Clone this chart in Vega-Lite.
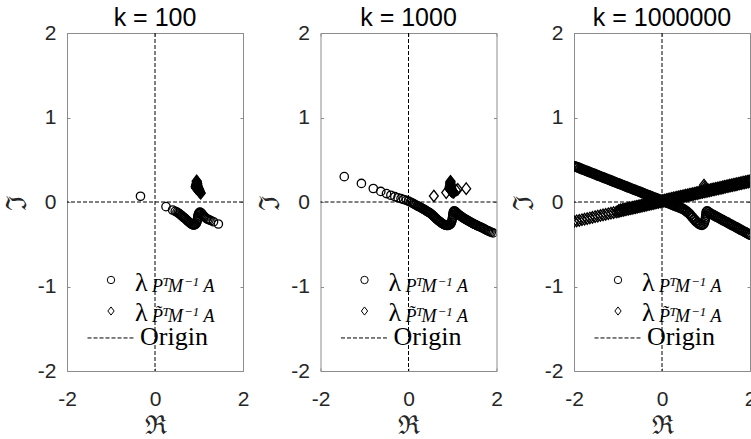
{
"$schema":"https://vega.github.io/schema/vega-lite/v6.json",
"padding":{"left":2,"top":5,"right":5,"bottom":5},
"spacing":5.5,
"datasets":{
"pts":[
{"k":100,"s":"c","x":-0.33,"y":0.068},{"k":100,"s":"c","x":0.25,"y":-0.055},{"k":100,"s":"c","x":0.40,"y":-0.095},{"k":100,"s":"c","x":0.46,"y":-0.11},{"k":100,"s":"c","x":0.50,"y":-0.12},{"k":100,"s":"c","x":0.53,"y":-0.13},{"k":100,"s":"c","x":0.555,"y":-0.14},{"k":100,"s":"c","x":0.58,"y":-0.15},{"k":100,"s":"c","x":0.60,"y":-0.16},{"k":100,"s":"c","x":0.62,"y":-0.168},{"k":100,"s":"c","x":0.64,"y":-0.178},{"k":100,"s":"c","x":0.66,"y":-0.186},{"k":100,"s":"c","x":0.68,"y":-0.193},{"k":100,"s":"c","x":0.70,"y":-0.203},{"k":100,"s":"c","x":0.72,"y":-0.213},{"k":100,"s":"c","x":0.74,"y":-0.223},{"k":100,"s":"c","x":0.76,"y":-0.233},{"k":100,"s":"c","x":0.78,"y":-0.242},{"k":100,"s":"c","x":0.80,"y":-0.25},{"k":100,"s":"c","x":0.82,"y":-0.258},{"k":100,"s":"c","x":0.84,"y":-0.265},{"k":100,"s":"c","x":0.86,"y":-0.27},{"k":100,"s":"c","x":0.88,"y":-0.272},{"k":100,"s":"c","x":0.90,"y":-0.27},{"k":100,"s":"c","x":0.92,"y":-0.264},{"k":100,"s":"c","x":0.94,"y":-0.253},{"k":100,"s":"c","x":0.955,"y":-0.235},{"k":100,"s":"c","x":0.962,"y":-0.215},{"k":100,"s":"c","x":0.968,"y":-0.195},{"k":100,"s":"c","x":0.972,"y":-0.175},{"k":100,"s":"c","x":0.98,"y":-0.155},{"k":100,"s":"c","x":0.99,"y":-0.138},{"k":100,"s":"c","x":1.005,"y":-0.125},{"k":100,"s":"c","x":1.02,"y":-0.12},{"k":100,"s":"c","x":1.04,"y":-0.125},{"k":100,"s":"c","x":1.06,"y":-0.135},{"k":100,"s":"c","x":1.08,"y":-0.15},{"k":100,"s":"c","x":1.10,"y":-0.162},{"k":100,"s":"c","x":1.12,"y":-0.173},{"k":100,"s":"c","x":1.14,"y":-0.182},{"k":100,"s":"c","x":1.17,"y":-0.195},{"k":100,"s":"c","x":1.20,"y":-0.204},{"k":100,"s":"c","x":1.23,"y":-0.211},{"k":100,"s":"c","x":1.27,"y":-0.219},{"k":100,"s":"c","x":1.33,"y":-0.234},{"k":100,"s":"c","x":1.44,"y":-0.26},
{"k":100,"s":"d","x":0.947,"y":0.25},{"k":100,"s":"d","x":0.95,"y":0.24},{"k":100,"s":"d","x":0.952,"y":0.23},{"k":100,"s":"d","x":0.948,"y":0.22},{"k":100,"s":"d","x":0.94,"y":0.21},{"k":100,"s":"d","x":0.935,"y":0.2},{"k":100,"s":"d","x":0.93,"y":0.19},{"k":100,"s":"d","x":0.925,"y":0.18},{"k":100,"s":"d","x":0.93,"y":0.17},{"k":100,"s":"d","x":0.94,"y":0.165},{"k":100,"s":"d","x":0.95,"y":0.16},{"k":100,"s":"d","x":0.96,"y":0.155},{"k":100,"s":"d","x":0.97,"y":0.15},{"k":100,"s":"d","x":0.98,"y":0.145},{"k":100,"s":"d","x":0.99,"y":0.14},{"k":100,"s":"d","x":1.0,"y":0.133},{"k":100,"s":"d","x":1.01,"y":0.126},{"k":100,"s":"d","x":1.02,"y":0.12},{"k":100,"s":"d","x":1.03,"y":0.113},{"k":100,"s":"d","x":1.04,"y":0.105},{"k":100,"s":"d","x":0.96,"y":0.22},{"k":100,"s":"d","x":0.965,"y":0.2},{"k":100,"s":"d","x":0.97,"y":0.185},{"k":100,"s":"d","x":0.98,"y":0.175},{"k":100,"s":"d","x":0.99,"y":0.16},{"k":100,"s":"d","x":1.0,"y":0.15},{"k":100,"s":"d","x":1.01,"y":0.14},{"k":100,"s":"d","x":0.955,"y":0.185},{"k":100,"s":"d","x":0.945,"y":0.19},{"k":100,"s":"d","x":0.96,"y":0.175},
{"k":1000,"s":"c","x":-1.46,"y":0.30},{"k":1000,"s":"c","x":-1.07,"y":0.22},{"k":1000,"s":"c","x":-0.80,"y":0.16},{"k":1000,"s":"c","x":-0.63,"y":0.125},{"k":1000,"s":"c","x":-0.50,"y":0.10},{"k":1000,"s":"c","x":-0.40,"y":0.08},{"k":1000,"s":"c","x":-0.31,"y":0.063},{"k":1000,"s":"c","x":-0.24,"y":0.05},{"k":1000,"s":"c","x":-0.17,"y":0.04},{"k":1000,"s":"c","x":-0.11,"y":0.03},{"k":1000,"s":"c","x":-0.05,"y":0.02},{"k":1000,"s":"c","x":0.0,"y":0.01},{"k":1000,"s":"c","x":0.04,"y":0.0},{"k":1000,"s":"c","x":0.08,"y":-0.01},{"k":1000,"s":"c","x":0.11,"y":-0.02},{"k":1000,"s":"c","x":0.14,"y":-0.028},{"k":1000,"s":"c","x":0.17,"y":-0.036},{"k":1000,"s":"c","x":0.20,"y":-0.044},{"k":1000,"s":"c","x":0.22,"y":-0.05},{"k":1000,"s":"c","x":0.24,"y":-0.055},{"k":1000,"s":"c","x":0.26,"y":-0.06},{"k":1000,"s":"c","x":0.28,"y":-0.066},{"k":1000,"s":"c","x":0.30,"y":-0.072},{"k":1000,"s":"c","x":0.32,"y":-0.078},{"k":1000,"s":"c","x":0.34,"y":-0.085},{"k":1000,"s":"c","x":0.36,"y":-0.091},{"k":1000,"s":"c","x":0.38,"y":-0.097},{"k":1000,"s":"c","x":0.40,"y":-0.103},{"k":1000,"s":"c","x":0.42,"y":-0.109},{"k":1000,"s":"c","x":0.44,"y":-0.115},{"k":1000,"s":"c","x":0.46,"y":-0.121},{"k":1000,"s":"c","x":0.48,"y":-0.128},{"k":1000,"s":"c","x":0.50,"y":-0.135},{"k":1000,"s":"c","x":0.52,"y":-0.143},{"k":1000,"s":"c","x":0.54,"y":-0.152},{"k":1000,"s":"c","x":0.56,"y":-0.162},{"k":1000,"s":"c","x":0.58,"y":-0.172},{"k":1000,"s":"c","x":0.60,"y":-0.182},{"k":1000,"s":"c","x":0.62,"y":-0.192},{"k":1000,"s":"c","x":0.64,"y":-0.202},{"k":1000,"s":"c","x":0.66,"y":-0.211},{"k":1000,"s":"c","x":0.68,"y":-0.22},{"k":1000,"s":"c","x":0.70,"y":-0.228},{"k":1000,"s":"c","x":0.72,"y":-0.236},{"k":1000,"s":"c","x":0.74,"y":-0.244},{"k":1000,"s":"c","x":0.76,"y":-0.252},{"k":1000,"s":"c","x":0.78,"y":-0.259},{"k":1000,"s":"c","x":0.80,"y":-0.265},{"k":1000,"s":"c","x":0.82,"y":-0.27},{"k":1000,"s":"c","x":0.84,"y":-0.274},{"k":1000,"s":"c","x":0.86,"y":-0.277},{"k":1000,"s":"c","x":0.88,"y":-0.278},{"k":1000,"s":"c","x":0.90,"y":-0.277},{"k":1000,"s":"c","x":0.92,"y":-0.274},{"k":1000,"s":"c","x":0.94,"y":-0.268},{"k":1000,"s":"c","x":0.96,"y":-0.258},{"k":1000,"s":"c","x":0.975,"y":-0.243},{"k":1000,"s":"c","x":0.985,"y":-0.225},{"k":1000,"s":"c","x":0.995,"y":-0.205},{"k":1000,"s":"c","x":1.0,"y":-0.185},{"k":1000,"s":"c","x":1.005,"y":-0.165},{"k":1000,"s":"c","x":1.01,"y":-0.145},{"k":1000,"s":"c","x":1.015,"y":-0.125},{"k":1000,"s":"c","x":1.025,"y":-0.11},{"k":1000,"s":"c","x":1.04,"y":-0.105},{"k":1000,"s":"c","x":1.06,"y":-0.11},{"k":1000,"s":"c","x":1.08,"y":-0.12},{"k":1000,"s":"c","x":1.10,"y":-0.13},{"k":1000,"s":"c","x":1.12,"y":-0.14},{"k":1000,"s":"c","x":1.14,"y":-0.149},{"k":1000,"s":"c","x":1.16,"y":-0.157},{"k":1000,"s":"c","x":1.18,"y":-0.165},{"k":1000,"s":"c","x":1.20,"y":-0.172},{"k":1000,"s":"c","x":1.22,"y":-0.179},{"k":1000,"s":"c","x":1.24,"y":-0.186},{"k":1000,"s":"c","x":1.26,"y":-0.193},{"k":1000,"s":"c","x":1.28,"y":-0.2},{"k":1000,"s":"c","x":1.30,"y":-0.206},{"k":1000,"s":"c","x":1.32,"y":-0.212},{"k":1000,"s":"c","x":1.34,"y":-0.218},{"k":1000,"s":"c","x":1.36,"y":-0.224},{"k":1000,"s":"c","x":1.38,"y":-0.23},{"k":1000,"s":"c","x":1.40,"y":-0.236},{"k":1000,"s":"c","x":1.42,"y":-0.242},{"k":1000,"s":"c","x":1.44,"y":-0.248},{"k":1000,"s":"c","x":1.46,"y":-0.253},{"k":1000,"s":"c","x":1.48,"y":-0.258},{"k":1000,"s":"c","x":1.50,"y":-0.263},{"k":1000,"s":"c","x":1.52,"y":-0.268},{"k":1000,"s":"c","x":1.54,"y":-0.273},{"k":1000,"s":"c","x":1.56,"y":-0.278},{"k":1000,"s":"c","x":1.58,"y":-0.284},{"k":1000,"s":"c","x":1.61,"y":-0.29},{"k":1000,"s":"c","x":1.64,"y":-0.298},{"k":1000,"s":"c","x":1.67,"y":-0.305},{"k":1000,"s":"c","x":1.70,"y":-0.313},{"k":1000,"s":"c","x":1.73,"y":-0.321},{"k":1000,"s":"c","x":1.76,"y":-0.329},{"k":1000,"s":"c","x":1.79,"y":-0.337},{"k":1000,"s":"c","x":1.82,"y":-0.344},{"k":1000,"s":"c","x":1.85,"y":-0.351},{"k":1000,"s":"c","x":1.88,"y":-0.358},{"k":1000,"s":"c","x":1.92,"y":-0.366},
{"k":1000,"s":"d","x":0.576,"y":0.071},{"k":1000,"s":"d","x":0.857,"y":0.111},{"k":1000,"s":"d","x":1.12,"y":0.15},{"k":1000,"s":"d","x":1.311,"y":0.158},{"k":1000,"s":"d","x":0.955,"y":0.245},{"k":1000,"s":"d","x":0.952,"y":0.235},{"k":1000,"s":"d","x":0.95,"y":0.225},{"k":1000,"s":"d","x":0.95,"y":0.215},{"k":1000,"s":"d","x":0.945,"y":0.2},{"k":1000,"s":"d","x":0.94,"y":0.19},{"k":1000,"s":"d","x":0.94,"y":0.18},{"k":1000,"s":"d","x":0.96,"y":0.19},{"k":1000,"s":"d","x":0.935,"y":0.17},{"k":1000,"s":"d","x":0.93,"y":0.16},{"k":1000,"s":"d","x":0.975,"y":0.16},{"k":1000,"s":"d","x":0.965,"y":0.175},{"k":1000,"s":"d","x":0.95,"y":0.145},{"k":1000,"s":"d","x":0.96,"y":0.14},{"k":1000,"s":"d","x":0.97,"y":0.135},{"k":1000,"s":"d","x":0.98,"y":0.13},{"k":1000,"s":"d","x":0.99,"y":0.125},{"k":1000,"s":"d","x":1.0,"y":0.122},{"k":1000,"s":"d","x":1.01,"y":0.12},{"k":1000,"s":"d","x":1.02,"y":0.118},{"k":1000,"s":"d","x":1.03,"y":0.115},{"k":1000,"s":"d","x":1.08,"y":0.14},
{"k":1000000,"s":"c","x":-2.0,"y":0.42},{"k":1000000,"s":"c","x":-1.96,"y":0.412},{"k":1000000,"s":"c","x":-1.92,"y":0.404},{"k":1000000,"s":"c","x":-1.88,"y":0.395},{"k":1000000,"s":"c","x":-1.84,"y":0.387},{"k":1000000,"s":"c","x":-1.80,"y":0.379},{"k":1000000,"s":"c","x":-1.76,"y":0.371},{"k":1000000,"s":"c","x":-1.72,"y":0.363},{"k":1000000,"s":"c","x":-1.68,"y":0.354},{"k":1000000,"s":"c","x":-1.64,"y":0.346},{"k":1000000,"s":"c","x":-1.60,"y":0.338},{"k":1000000,"s":"c","x":-1.56,"y":0.33},{"k":1000000,"s":"c","x":-1.52,"y":0.322},{"k":1000000,"s":"c","x":-1.48,"y":0.313},{"k":1000000,"s":"c","x":-1.44,"y":0.305},{"k":1000000,"s":"c","x":-1.40,"y":0.297},{"k":1000000,"s":"c","x":-1.36,"y":0.289},{"k":1000000,"s":"c","x":-1.32,"y":0.281},{"k":1000000,"s":"c","x":-1.28,"y":0.272},{"k":1000000,"s":"c","x":-1.24,"y":0.264},{"k":1000000,"s":"c","x":-1.20,"y":0.256},{"k":1000000,"s":"c","x":-1.16,"y":0.248},{"k":1000000,"s":"c","x":-1.12,"y":0.24},{"k":1000000,"s":"c","x":-1.08,"y":0.231},{"k":1000000,"s":"c","x":-1.04,"y":0.223},{"k":1000000,"s":"c","x":-1.00,"y":0.215},{"k":1000000,"s":"c","x":-0.96,"y":0.207},{"k":1000000,"s":"c","x":-0.92,"y":0.199},{"k":1000000,"s":"c","x":-0.88,"y":0.19},{"k":1000000,"s":"c","x":-0.84,"y":0.182},{"k":1000000,"s":"c","x":-0.80,"y":0.174},{"k":1000000,"s":"c","x":-0.76,"y":0.166},{"k":1000000,"s":"c","x":-0.72,"y":0.158},{"k":1000000,"s":"c","x":-0.68,"y":0.149},{"k":1000000,"s":"c","x":-0.64,"y":0.141},{"k":1000000,"s":"c","x":-0.60,"y":0.133},{"k":1000000,"s":"c","x":-0.56,"y":0.125},{"k":1000000,"s":"c","x":-0.52,"y":0.117},{"k":1000000,"s":"c","x":-0.48,"y":0.108},{"k":1000000,"s":"c","x":-0.44,"y":0.1},{"k":1000000,"s":"c","x":-0.40,"y":0.092},{"k":1000000,"s":"c","x":-0.36,"y":0.084},{"k":1000000,"s":"c","x":-0.32,"y":0.076},{"k":1000000,"s":"c","x":-0.28,"y":0.067},{"k":1000000,"s":"c","x":-0.24,"y":0.059},{"k":1000000,"s":"c","x":-0.20,"y":0.051},{"k":1000000,"s":"c","x":-0.16,"y":0.043},{"k":1000000,"s":"c","x":-0.12,"y":0.035},{"k":1000000,"s":"c","x":-0.08,"y":0.026},{"k":1000000,"s":"c","x":-0.04,"y":0.018},{"k":1000000,"s":"c","x":0.0,"y":0.01},{"k":1000000,"s":"c","x":0.04,"y":0.002},{"k":1000000,"s":"c","x":0.08,"y":-0.006},{"k":1000000,"s":"c","x":0.12,"y":-0.015},{"k":1000000,"s":"c","x":0.16,"y":-0.023},{"k":1000000,"s":"c","x":0.20,"y":-0.031},{"k":1000000,"s":"c","x":0.24,"y":-0.039},{"k":1000000,"s":"c","x":0.28,"y":-0.047},{"k":1000000,"s":"c","x":0.32,"y":-0.056},{"k":1000000,"s":"c","x":0.36,"y":-0.064},{"k":1000000,"s":"c","x":0.40,"y":-0.072},{"k":1000000,"s":"c","x":0.44,"y":-0.08},{"k":1000000,"s":"c","x":0.48,"y":-0.09},{"k":1000000,"s":"c","x":0.52,"y":-0.103},{"k":1000000,"s":"c","x":0.56,"y":-0.118},{"k":1000000,"s":"c","x":0.60,"y":-0.135},{"k":1000000,"s":"c","x":0.64,"y":-0.155},{"k":1000000,"s":"c","x":0.68,"y":-0.18},{"k":1000000,"s":"c","x":0.72,"y":-0.205},{"k":1000000,"s":"c","x":0.76,"y":-0.228},{"k":1000000,"s":"c","x":0.80,"y":-0.248},{"k":1000000,"s":"c","x":0.84,"y":-0.264},{"k":1000000,"s":"c","x":0.88,"y":-0.274},{"k":1000000,"s":"c","x":0.91,"y":-0.276},{"k":1000000,"s":"c","x":0.94,"y":-0.268},{"k":1000000,"s":"c","x":0.96,"y":-0.25},{"k":1000000,"s":"c","x":0.975,"y":-0.228},{"k":1000000,"s":"c","x":0.985,"y":-0.205},{"k":1000000,"s":"c","x":0.99,"y":-0.18},{"k":1000000,"s":"c","x":0.995,"y":-0.155},{"k":1000000,"s":"c","x":1.0,"y":-0.13},{"k":1000000,"s":"c","x":1.01,"y":-0.11},{"k":1000000,"s":"c","x":1.03,"y":-0.105},{"k":1000000,"s":"c","x":1.06,"y":-0.115},{"k":1000000,"s":"c","x":1.10,"y":-0.13},{"k":1000000,"s":"c","x":1.14,"y":-0.142},{"k":1000000,"s":"c","x":1.18,"y":-0.153},{"k":1000000,"s":"c","x":1.22,"y":-0.164},{"k":1000000,"s":"c","x":1.26,"y":-0.175},{"k":1000000,"s":"c","x":1.30,"y":-0.186},{"k":1000000,"s":"c","x":1.34,"y":-0.198},{"k":1000000,"s":"c","x":1.38,"y":-0.209},{"k":1000000,"s":"c","x":1.42,"y":-0.22},{"k":1000000,"s":"c","x":1.46,"y":-0.231},{"k":1000000,"s":"c","x":1.50,"y":-0.242},{"k":1000000,"s":"c","x":1.54,"y":-0.254},{"k":1000000,"s":"c","x":1.58,"y":-0.265},{"k":1000000,"s":"c","x":1.62,"y":-0.276},{"k":1000000,"s":"c","x":1.66,"y":-0.287},{"k":1000000,"s":"c","x":1.70,"y":-0.298},{"k":1000000,"s":"c","x":1.74,"y":-0.31},{"k":1000000,"s":"c","x":1.78,"y":-0.321},{"k":1000000,"s":"c","x":1.82,"y":-0.332},{"k":1000000,"s":"c","x":1.86,"y":-0.343},{"k":1000000,"s":"c","x":1.90,"y":-0.354},{"k":1000000,"s":"c","x":1.94,"y":-0.366},{"k":1000000,"s":"c","x":1.98,"y":-0.377},{"k":1000000,"s":"c","x":2.02,"y":-0.388},
{"k":1000000,"s":"c","x":-1.98,"y":0.428},{"k":1000000,"s":"c","x":-1.94,"y":0.42},{"k":1000000,"s":"c","x":-1.90,"y":0.412},{"k":1000000,"s":"c","x":-1.86,"y":0.403},{"k":1000000,"s":"c","x":-1.82,"y":0.395},{"k":1000000,"s":"c","x":-1.78,"y":0.387},{"k":1000000,"s":"c","x":-1.74,"y":0.379},{"k":1000000,"s":"c","x":-1.70,"y":0.371},{"k":1000000,"s":"c","x":-1.66,"y":0.362},{"k":1000000,"s":"c","x":-1.62,"y":0.354},{"k":1000000,"s":"c","x":-1.58,"y":0.346},{"k":1000000,"s":"c","x":-1.54,"y":0.338},{"k":1000000,"s":"c","x":-1.50,"y":0.33},{"k":1000000,"s":"c","x":-1.46,"y":0.321},{"k":1000000,"s":"c","x":-1.42,"y":0.313},{"k":1000000,"s":"c","x":-1.38,"y":0.305},{"k":1000000,"s":"c","x":-1.34,"y":0.297},{"k":1000000,"s":"c","x":-1.30,"y":0.289},{"k":1000000,"s":"c","x":-1.26,"y":0.28},{"k":1000000,"s":"c","x":-1.22,"y":0.272},{"k":1000000,"s":"c","x":-1.18,"y":0.264},{"k":1000000,"s":"c","x":-1.14,"y":0.256},{"k":1000000,"s":"c","x":-1.10,"y":0.248},{"k":1000000,"s":"c","x":-1.06,"y":0.239},{"k":1000000,"s":"c","x":-1.02,"y":0.231},{"k":1000000,"s":"c","x":-0.98,"y":0.223},{"k":1000000,"s":"c","x":-0.94,"y":0.215},{"k":1000000,"s":"c","x":-0.90,"y":0.207},{"k":1000000,"s":"c","x":-0.86,"y":0.198},{"k":1000000,"s":"c","x":-0.82,"y":0.19},{"k":1000000,"s":"c","x":-0.78,"y":0.182},{"k":1000000,"s":"c","x":-0.74,"y":0.174},{"k":1000000,"s":"c","x":-0.70,"y":0.166},{"k":1000000,"s":"c","x":-0.66,"y":0.157},{"k":1000000,"s":"c","x":-0.62,"y":0.149},{"k":1000000,"s":"c","x":-0.58,"y":0.141},{"k":1000000,"s":"c","x":-0.54,"y":0.133},{"k":1000000,"s":"c","x":-0.50,"y":0.125},{"k":1000000,"s":"c","x":-0.46,"y":0.116},{"k":1000000,"s":"c","x":-0.42,"y":0.108},{"k":1000000,"s":"c","x":-0.38,"y":0.1},{"k":1000000,"s":"c","x":-0.34,"y":0.092},{"k":1000000,"s":"c","x":-0.30,"y":0.084},{"k":1000000,"s":"c","x":-0.26,"y":0.075},{"k":1000000,"s":"c","x":-0.22,"y":0.067},{"k":1000000,"s":"c","x":-0.18,"y":0.059},{"k":1000000,"s":"c","x":-0.14,"y":0.051},{"k":1000000,"s":"c","x":-0.10,"y":0.043},{"k":1000000,"s":"c","x":-0.06,"y":0.034},{"k":1000000,"s":"c","x":-0.02,"y":0.026},{"k":1000000,"s":"c","x":0.02,"y":0.018},{"k":1000000,"s":"c","x":0.06,"y":0.01},{"k":1000000,"s":"c","x":0.10,"y":0.001},{"k":1000000,"s":"c","x":0.14,"y":-0.007},{"k":1000000,"s":"c","x":0.18,"y":-0.015},{"k":1000000,"s":"c","x":0.22,"y":-0.023},{"k":1000000,"s":"c","x":0.26,"y":-0.031},{"k":1000000,"s":"c","x":0.30,"y":-0.04},{"k":1000000,"s":"c","x":0.34,"y":-0.048},{"k":1000000,"s":"c","x":0.38,"y":-0.056},{"k":1000000,"s":"c","x":0.42,"y":-0.064},{"k":1000000,"s":"c","x":0.46,"y":-0.073},{"k":1000000,"s":"c","x":0.50,"y":-0.084},{"k":1000000,"s":"c","x":0.54,"y":-0.098},{"k":1000000,"s":"c","x":0.58,"y":-0.114},{"k":1000000,"s":"c","x":0.62,"y":-0.133},{"k":1000000,"s":"c","x":0.66,"y":-0.155},{"k":1000000,"s":"c","x":0.70,"y":-0.18},{"k":1000000,"s":"c","x":0.74,"y":-0.204},{"k":1000000,"s":"c","x":0.78,"y":-0.226},{"k":1000000,"s":"c","x":0.82,"y":-0.244},{"k":1000000,"s":"c","x":0.86,"y":-0.258},{"k":1000000,"s":"c","x":1.08,"y":-0.133},{"k":1000000,"s":"c","x":1.12,"y":-0.146},{"k":1000000,"s":"c","x":1.16,"y":-0.158},{"k":1000000,"s":"c","x":1.20,"y":-0.169},{"k":1000000,"s":"c","x":1.24,"y":-0.18},{"k":1000000,"s":"c","x":1.28,"y":-0.191},{"k":1000000,"s":"c","x":1.32,"y":-0.202},{"k":1000000,"s":"c","x":1.36,"y":-0.214},{"k":1000000,"s":"c","x":1.40,"y":-0.225},{"k":1000000,"s":"c","x":1.44,"y":-0.236},{"k":1000000,"s":"c","x":1.48,"y":-0.247},{"k":1000000,"s":"c","x":1.52,"y":-0.258},{"k":1000000,"s":"c","x":1.56,"y":-0.27},{"k":1000000,"s":"c","x":1.60,"y":-0.281},{"k":1000000,"s":"c","x":1.64,"y":-0.292},{"k":1000000,"s":"c","x":1.68,"y":-0.303},{"k":1000000,"s":"c","x":1.72,"y":-0.314},{"k":1000000,"s":"c","x":1.76,"y":-0.326},{"k":1000000,"s":"c","x":1.80,"y":-0.337},{"k":1000000,"s":"c","x":1.84,"y":-0.348},{"k":1000000,"s":"c","x":1.88,"y":-0.359},{"k":1000000,"s":"c","x":1.92,"y":-0.37},{"k":1000000,"s":"c","x":1.96,"y":-0.382},{"k":1000000,"s":"c","x":2.00,"y":-0.393},
{"k":1000000,"s":"d","x":-2.0,"y":-0.231},{"k":1000000,"s":"d","x":-1.94,"y":-0.224},{"k":1000000,"s":"d","x":-1.88,"y":-0.217},{"k":1000000,"s":"d","x":-1.82,"y":-0.21},{"k":1000000,"s":"d","x":-1.76,"y":-0.203},{"k":1000000,"s":"d","x":-1.70,"y":-0.196},{"k":1000000,"s":"d","x":-1.64,"y":-0.189},{"k":1000000,"s":"d","x":-1.58,"y":-0.181},{"k":1000000,"s":"d","x":-1.52,"y":-0.174},{"k":1000000,"s":"d","x":-1.46,"y":-0.167},{"k":1000000,"s":"d","x":-1.40,"y":-0.16},{"k":1000000,"s":"d","x":-1.34,"y":-0.153},{"k":1000000,"s":"d","x":-1.28,"y":-0.146},{"k":1000000,"s":"d","x":-1.22,"y":-0.139},{"k":1000000,"s":"d","x":-1.16,"y":-0.132},{"k":1000000,"s":"d","x":-1.10,"y":-0.125},{"k":1000000,"s":"d","x":-1.04,"y":-0.118},{"k":1000000,"s":"d","x":-1.0,"y":-0.113},{"k":1000000,"s":"d","x":-0.96,"y":-0.108},{"k":1000000,"s":"d","x":-0.92,"y":-0.104},{"k":1000000,"s":"d","x":-0.88,"y":-0.099},{"k":1000000,"s":"d","x":-0.84,"y":-0.094},{"k":1000000,"s":"d","x":-0.80,"y":-0.089},{"k":1000000,"s":"d","x":-0.76,"y":-0.085},{"k":1000000,"s":"d","x":-0.72,"y":-0.08},{"k":1000000,"s":"d","x":-0.68,"y":-0.075},{"k":1000000,"s":"d","x":-0.64,"y":-0.071},{"k":1000000,"s":"d","x":-0.60,"y":-0.066},{"k":1000000,"s":"d","x":-0.56,"y":-0.061},{"k":1000000,"s":"d","x":-0.52,"y":-0.056},{"k":1000000,"s":"d","x":-0.48,"y":-0.052},{"k":1000000,"s":"d","x":-0.44,"y":-0.047},{"k":1000000,"s":"d","x":-0.40,"y":-0.042},{"k":1000000,"s":"d","x":-0.36,"y":-0.037},{"k":1000000,"s":"d","x":-0.32,"y":-0.033},{"k":1000000,"s":"d","x":-0.28,"y":-0.028},{"k":1000000,"s":"d","x":-0.24,"y":-0.023},{"k":1000000,"s":"d","x":-0.20,"y":-0.019},{"k":1000000,"s":"d","x":-0.16,"y":-0.014},{"k":1000000,"s":"d","x":-0.12,"y":-0.009},{"k":1000000,"s":"d","x":-0.08,"y":-0.004},{"k":1000000,"s":"d","x":-0.04,"y":0.0},{"k":1000000,"s":"d","x":0.0,"y":0.005},{"k":1000000,"s":"d","x":0.04,"y":0.01},{"k":1000000,"s":"d","x":0.08,"y":0.014},{"k":1000000,"s":"d","x":0.12,"y":0.019},{"k":1000000,"s":"d","x":0.16,"y":0.024},{"k":1000000,"s":"d","x":0.20,"y":0.029},{"k":1000000,"s":"d","x":0.24,"y":0.033},{"k":1000000,"s":"d","x":0.28,"y":0.038},{"k":1000000,"s":"d","x":0.32,"y":0.043},{"k":1000000,"s":"d","x":0.36,"y":0.047},{"k":1000000,"s":"d","x":0.40,"y":0.052},{"k":1000000,"s":"d","x":0.44,"y":0.057},{"k":1000000,"s":"d","x":0.48,"y":0.062},{"k":1000000,"s":"d","x":0.52,"y":0.066},{"k":1000000,"s":"d","x":0.56,"y":0.071},{"k":1000000,"s":"d","x":0.60,"y":0.076},{"k":1000000,"s":"d","x":0.64,"y":0.081},{"k":1000000,"s":"d","x":0.68,"y":0.085},{"k":1000000,"s":"d","x":0.72,"y":0.09},{"k":1000000,"s":"d","x":0.76,"y":0.095},{"k":1000000,"s":"d","x":0.80,"y":0.099},{"k":1000000,"s":"d","x":0.84,"y":0.104},{"k":1000000,"s":"d","x":0.88,"y":0.109},{"k":1000000,"s":"d","x":0.92,"y":0.114},{"k":1000000,"s":"d","x":0.96,"y":0.118},{"k":1000000,"s":"d","x":1.0,"y":0.123},{"k":1000000,"s":"d","x":1.04,"y":0.128},{"k":1000000,"s":"d","x":1.08,"y":0.132},{"k":1000000,"s":"d","x":1.12,"y":0.137},{"k":1000000,"s":"d","x":1.16,"y":0.142},{"k":1000000,"s":"d","x":1.20,"y":0.147},{"k":1000000,"s":"d","x":1.24,"y":0.151},{"k":1000000,"s":"d","x":1.28,"y":0.156},{"k":1000000,"s":"d","x":1.32,"y":0.161},{"k":1000000,"s":"d","x":1.36,"y":0.165},{"k":1000000,"s":"d","x":1.40,"y":0.17},{"k":1000000,"s":"d","x":1.44,"y":0.175},{"k":1000000,"s":"d","x":1.48,"y":0.18},{"k":1000000,"s":"d","x":1.52,"y":0.184},{"k":1000000,"s":"d","x":1.56,"y":0.189},{"k":1000000,"s":"d","x":1.60,"y":0.194},{"k":1000000,"s":"d","x":1.64,"y":0.198},{"k":1000000,"s":"d","x":1.68,"y":0.203},{"k":1000000,"s":"d","x":1.72,"y":0.208},{"k":1000000,"s":"d","x":1.76,"y":0.213},{"k":1000000,"s":"d","x":1.80,"y":0.217},{"k":1000000,"s":"d","x":1.84,"y":0.222},{"k":1000000,"s":"d","x":1.88,"y":0.227},{"k":1000000,"s":"d","x":1.92,"y":0.232},{"k":1000000,"s":"d","x":1.96,"y":0.236},{"k":1000000,"s":"d","x":2.0,"y":0.241},{"k":1000000,"s":"d","x":2.04,"y":0.246},{"k":1000000,"s":"d","x":0.955,"y":0.2},{"k":1000000,"s":"d","x":0.96,"y":0.175},{"k":1000000,"s":"d","x":0.965,"y":0.15},
{"k":1000000,"s":"d","x":-0.98,"y":-0.099},{"k":1000000,"s":"d","x":-0.94,"y":-0.094},{"k":1000000,"s":"d","x":-0.90,"y":-0.089},{"k":1000000,"s":"d","x":-0.86,"y":-0.084},{"k":1000000,"s":"d","x":-0.82,"y":-0.08},{"k":1000000,"s":"d","x":-0.78,"y":-0.075},{"k":1000000,"s":"d","x":-0.74,"y":-0.07},{"k":1000000,"s":"d","x":-0.70,"y":-0.066},{"k":1000000,"s":"d","x":-0.66,"y":-0.061},{"k":1000000,"s":"d","x":-0.62,"y":-0.056},{"k":1000000,"s":"d","x":-0.58,"y":-0.051},{"k":1000000,"s":"d","x":-0.54,"y":-0.047},{"k":1000000,"s":"d","x":-0.50,"y":-0.042},{"k":1000000,"s":"d","x":-0.46,"y":-0.037},{"k":1000000,"s":"d","x":-0.42,"y":-0.033},{"k":1000000,"s":"d","x":-0.38,"y":-0.028},{"k":1000000,"s":"d","x":-0.34,"y":-0.023},{"k":1000000,"s":"d","x":-0.30,"y":-0.018},{"k":1000000,"s":"d","x":-0.26,"y":-0.014},{"k":1000000,"s":"d","x":-0.22,"y":-0.009},{"k":1000000,"s":"d","x":-0.18,"y":-0.004},{"k":1000000,"s":"d","x":-0.14,"y":0.0},{"k":1000000,"s":"d","x":-0.10,"y":0.005},{"k":1000000,"s":"d","x":-0.06,"y":0.01},{"k":1000000,"s":"d","x":-0.02,"y":0.015},{"k":1000000,"s":"d","x":0.02,"y":0.019},{"k":1000000,"s":"d","x":0.06,"y":0.024},{"k":1000000,"s":"d","x":0.10,"y":0.029},{"k":1000000,"s":"d","x":0.14,"y":0.034},{"k":1000000,"s":"d","x":0.18,"y":0.038},{"k":1000000,"s":"d","x":0.22,"y":0.043},{"k":1000000,"s":"d","x":0.26,"y":0.048},{"k":1000000,"s":"d","x":0.30,"y":0.052},{"k":1000000,"s":"d","x":0.34,"y":0.057},{"k":1000000,"s":"d","x":0.38,"y":0.062},{"k":1000000,"s":"d","x":0.42,"y":0.067},{"k":1000000,"s":"d","x":0.46,"y":0.071},{"k":1000000,"s":"d","x":0.50,"y":0.076},{"k":1000000,"s":"d","x":0.54,"y":0.081},{"k":1000000,"s":"d","x":0.58,"y":0.085},{"k":1000000,"s":"d","x":0.62,"y":0.09},{"k":1000000,"s":"d","x":0.66,"y":0.095},{"k":1000000,"s":"d","x":0.70,"y":0.1},{"k":1000000,"s":"d","x":0.74,"y":0.104},{"k":1000000,"s":"d","x":0.78,"y":0.109},{"k":1000000,"s":"d","x":0.82,"y":0.114},{"k":1000000,"s":"d","x":0.86,"y":0.118},{"k":1000000,"s":"d","x":0.90,"y":0.123},{"k":1000000,"s":"d","x":0.94,"y":0.128},{"k":1000000,"s":"d","x":0.98,"y":0.133},{"k":1000000,"s":"d","x":1.02,"y":0.137},{"k":1000000,"s":"d","x":1.06,"y":0.142},{"k":1000000,"s":"d","x":1.10,"y":0.147},{"k":1000000,"s":"d","x":1.14,"y":0.152},{"k":1000000,"s":"d","x":1.18,"y":0.156},{"k":1000000,"s":"d","x":1.22,"y":0.161},{"k":1000000,"s":"d","x":1.26,"y":0.166},{"k":1000000,"s":"d","x":1.30,"y":0.17},{"k":1000000,"s":"d","x":1.34,"y":0.175},{"k":1000000,"s":"d","x":1.38,"y":0.18},{"k":1000000,"s":"d","x":1.42,"y":0.185},{"k":1000000,"s":"d","x":1.46,"y":0.189},{"k":1000000,"s":"d","x":1.50,"y":0.194},{"k":1000000,"s":"d","x":1.54,"y":0.199},{"k":1000000,"s":"d","x":1.58,"y":0.203},{"k":1000000,"s":"d","x":1.62,"y":0.208},{"k":1000000,"s":"d","x":1.66,"y":0.213},{"k":1000000,"s":"d","x":1.70,"y":0.218},{"k":1000000,"s":"d","x":1.74,"y":0.222},{"k":1000000,"s":"d","x":1.78,"y":0.227},{"k":1000000,"s":"d","x":1.82,"y":0.232},{"k":1000000,"s":"d","x":1.86,"y":0.236},{"k":1000000,"s":"d","x":1.90,"y":0.241},{"k":1000000,"s":"d","x":1.94,"y":0.246},{"k":1000000,"s":"d","x":1.98,"y":0.251},{"k":1000000,"s":"d","x":2.02,"y":0.255}
],
"legSym":[{"s":"c","x":-1.0,"y":-0.923},{"s":"d","x":-1.0,"y":-1.29}],
"legLine":[{"x":-1.534,"x2":-0.489,"y":-1.609}],
"legBig":[{"t":"λ","x":-0.455,"y":-1.053},{"t":"λ","x":-0.455,"y":-1.408},{"t":"Origin","x":-0.341,"y":-1.69}],
"legSub":[{"t":"P","x":-0.068,"y":-1.065},{"t":"M","x":0.295,"y":-1.065},{"t":"A","x":1.1,"y":-1.065},{"t":"P̃","x":-0.068,"y":-1.42},{"t":"M","x":0.295,"y":-1.42},{"t":"A","x":1.1,"y":-1.42}],
"legSup":[{"t":"T","x":0.17,"y":-0.994},{"t":"−1","x":0.66,"y":-0.994},{"t":"T","x":0.17,"y":-1.349},{"t":"−1","x":0.66,"y":-1.349}]
},
"hconcat":[
{"width":176,"height":338,"title":"k = 100","resolve":{"axis":{"x":"independent","y":"independent"}},
"layer":[
{"data":{"values":[{}]},"mark":{"type":"rule","color":"black","strokeDash":[4,2],"strokeWidth":1},"encoding":{"x":{"datum":0,"type":"quantitative","scale":{"domain":[-2,2]},"axis":{"orient":"top","values":[-2,0,2],"labels":false,"title":null,"minExtent":0,"maxExtent":0}}}},
{"data":{"values":[{}]},"mark":{"type":"rule","color":"black","strokeDash":[4,2],"strokeWidth":1},"encoding":{"y":{"datum":0,"type":"quantitative","scale":{"domain":[-2,2]},"axis":{"orient":"right","values":[-2,-1,0,1,2],"labels":false,"title":null,"minExtent":0,"maxExtent":0}}}},
{"data":{"name":"pts"},"transform":[{"filter":"datum.k == 100"}],"mark":{"type":"point","filled":false,"clip":true,"color":"black","opacity":1,"strokeWidth":1.3},"encoding":{"x":{"field":"x","type":"quantitative","scale":{"domain":[-2,2]},"axis":{"values":[-2,0,2],"title":"ℜ","labelExpr":"'' + datum.value"}},"y":{"field":"y","type":"quantitative","scale":{"domain":[-2,2]},"axis":{"values":[-2,-1,0,1,2],"title":"ℑ","labelExpr":"'' + datum.value"}},"shape":{"field":"s","type":"nominal","scale":{"domain":["c","d"],"range":["circle","M0,-1.1L0.85,0L0,1.1L-0.85,0Z"]},"legend":null},"size":{"field":"s","type":"ordinal","scale":{"domain":["c","d"],"range":[70,110]},"legend":null}}},
{"data":{"name":"legSym"},"mark":{"type":"point","filled":false,"color":"black","opacity":1,"strokeWidth":1,"size":55},"encoding":{"x":{"field":"x","type":"quantitative","axis":null},"y":{"field":"y","type":"quantitative","axis":null},"shape":{"field":"s","type":"nominal","legend":null}}},
{"data":{"name":"legLine"},"mark":{"type":"rule","color":"black","strokeDash":[4,2],"strokeWidth":1},"encoding":{"x":{"field":"x","type":"quantitative","axis":null},"x2":{"field":"x2"},"y":{"field":"y","type":"quantitative","axis":null}}},
{"data":{"name":"legBig"},"mark":{"type":"text","font":"Liberation Serif","fontSize":26,"align":"left","baseline":"alphabetic","color":"black"},"encoding":{"x":{"field":"x","type":"quantitative","axis":null},"y":{"field":"y","type":"quantitative","axis":null},"text":{"field":"t"}}},
{"data":{"name":"legSub"},"mark":{"type":"text","font":"Liberation Serif","fontStyle":"italic","fontSize":18,"align":"left","baseline":"alphabetic","color":"black"},"encoding":{"x":{"field":"x","type":"quantitative","axis":null},"y":{"field":"y","type":"quantitative","axis":null},"text":{"field":"t"}}},
{"data":{"name":"legSup"},"mark":{"type":"text","font":"Liberation Serif","fontStyle":"italic","fontSize":13,"align":"left","baseline":"alphabetic","color":"black"},"encoding":{"x":{"field":"x","type":"quantitative","axis":null},"y":{"field":"y","type":"quantitative","axis":null},"text":{"field":"t"}}}
]},
{"width":176,"height":338,"title":"k = 1000","resolve":{"axis":{"x":"independent","y":"independent"}},
"layer":[
{"data":{"values":[{}]},"mark":{"type":"rule","color":"black","strokeDash":[4,2],"strokeWidth":1},"encoding":{"x":{"datum":0,"type":"quantitative","scale":{"domain":[-2,2]},"axis":{"orient":"top","values":[-2,0,2],"labels":false,"title":null,"minExtent":0,"maxExtent":0}}}},
{"data":{"values":[{}]},"mark":{"type":"rule","color":"black","strokeDash":[4,2],"strokeWidth":1},"encoding":{"y":{"datum":0,"type":"quantitative","scale":{"domain":[-2,2]},"axis":{"orient":"right","values":[-2,-1,0,1,2],"labels":false,"title":null,"minExtent":0,"maxExtent":0}}}},
{"data":{"name":"pts"},"transform":[{"filter":"datum.k == 1000"}],"mark":{"type":"point","filled":false,"clip":true,"color":"black","opacity":1,"strokeWidth":1.3},"encoding":{"x":{"field":"x","type":"quantitative","scale":{"domain":[-2,2]},"axis":{"values":[-2,0,2],"title":"ℜ","labelExpr":"'' + datum.value"}},"y":{"field":"y","type":"quantitative","scale":{"domain":[-2,2]},"axis":{"values":[-2,-1,0,1,2],"title":"ℑ","labelExpr":"'' + datum.value"}},"shape":{"field":"s","type":"nominal","scale":{"domain":["c","d"],"range":["circle","M0,-1.1L0.85,0L0,1.1L-0.85,0Z"]},"legend":null},"size":{"field":"s","type":"ordinal","scale":{"domain":["c","d"],"range":[70,110]},"legend":null}}},
{"data":{"name":"legSym"},"mark":{"type":"point","filled":false,"color":"black","opacity":1,"strokeWidth":1,"size":55},"encoding":{"x":{"field":"x","type":"quantitative","axis":null},"y":{"field":"y","type":"quantitative","axis":null},"shape":{"field":"s","type":"nominal","legend":null}}},
{"data":{"name":"legLine"},"mark":{"type":"rule","color":"black","strokeDash":[4,2],"strokeWidth":1},"encoding":{"x":{"field":"x","type":"quantitative","axis":null},"x2":{"field":"x2"},"y":{"field":"y","type":"quantitative","axis":null}}},
{"data":{"name":"legBig"},"mark":{"type":"text","font":"Liberation Serif","fontSize":26,"align":"left","baseline":"alphabetic","color":"black"},"encoding":{"x":{"field":"x","type":"quantitative","axis":null},"y":{"field":"y","type":"quantitative","axis":null},"text":{"field":"t"}}},
{"data":{"name":"legSub"},"mark":{"type":"text","font":"Liberation Serif","fontStyle":"italic","fontSize":18,"align":"left","baseline":"alphabetic","color":"black"},"encoding":{"x":{"field":"x","type":"quantitative","axis":null},"y":{"field":"y","type":"quantitative","axis":null},"text":{"field":"t"}}},
{"data":{"name":"legSup"},"mark":{"type":"text","font":"Liberation Serif","fontStyle":"italic","fontSize":13,"align":"left","baseline":"alphabetic","color":"black"},"encoding":{"x":{"field":"x","type":"quantitative","axis":null},"y":{"field":"y","type":"quantitative","axis":null},"text":{"field":"t"}}}
]},
{"width":176,"height":338,"title":"k = 1000000","resolve":{"axis":{"x":"independent","y":"independent"}},
"layer":[
{"data":{"values":[{}]},"mark":{"type":"rule","color":"black","strokeDash":[4,2],"strokeWidth":1},"encoding":{"x":{"datum":0,"type":"quantitative","scale":{"domain":[-2,2]},"axis":{"orient":"top","values":[-2,0,2],"labels":false,"title":null,"minExtent":0,"maxExtent":0}}}},
{"data":{"values":[{}]},"mark":{"type":"rule","color":"black","strokeDash":[4,2],"strokeWidth":1},"encoding":{"y":{"datum":0,"type":"quantitative","scale":{"domain":[-2,2]},"axis":{"orient":"right","values":[-2,-1,0,1,2],"labels":false,"title":null,"minExtent":0,"maxExtent":0}}}},
{"data":{"name":"pts"},"transform":[{"filter":"datum.k == 1000000"}],"mark":{"type":"point","filled":false,"clip":true,"color":"black","opacity":1,"strokeWidth":1.3},"encoding":{"x":{"field":"x","type":"quantitative","scale":{"domain":[-2,2]},"axis":{"values":[-2,0,2],"title":"ℜ","labelExpr":"'' + datum.value"}},"y":{"field":"y","type":"quantitative","scale":{"domain":[-2,2]},"axis":{"values":[-2,-1,0,1,2],"title":"ℑ","labelExpr":"'' + datum.value"}},"shape":{"field":"s","type":"nominal","scale":{"domain":["c","d"],"range":["circle","M0,-1.1L0.85,0L0,1.1L-0.85,0Z"]},"legend":null},"size":{"field":"s","type":"ordinal","scale":{"domain":["c","d"],"range":[70,110]},"legend":null}}},
{"data":{"name":"legSym"},"mark":{"type":"point","filled":false,"color":"black","opacity":1,"strokeWidth":1,"size":55},"encoding":{"x":{"field":"x","type":"quantitative","axis":null},"y":{"field":"y","type":"quantitative","axis":null},"shape":{"field":"s","type":"nominal","legend":null}}},
{"data":{"name":"legLine"},"mark":{"type":"rule","color":"black","strokeDash":[4,2],"strokeWidth":1},"encoding":{"x":{"field":"x","type":"quantitative","axis":null},"x2":{"field":"x2"},"y":{"field":"y","type":"quantitative","axis":null}}},
{"data":{"name":"legBig"},"mark":{"type":"text","font":"Liberation Serif","fontSize":26,"align":"left","baseline":"alphabetic","color":"black"},"encoding":{"x":{"field":"x","type":"quantitative","axis":null},"y":{"field":"y","type":"quantitative","axis":null},"text":{"field":"t"}}},
{"data":{"name":"legSub"},"mark":{"type":"text","font":"Liberation Serif","fontStyle":"italic","fontSize":18,"align":"left","baseline":"alphabetic","color":"black"},"encoding":{"x":{"field":"x","type":"quantitative","axis":null},"y":{"field":"y","type":"quantitative","axis":null},"text":{"field":"t"}}},
{"data":{"name":"legSup"},"mark":{"type":"text","font":"Liberation Serif","fontStyle":"italic","fontSize":13,"align":"left","baseline":"alphabetic","color":"black"},"encoding":{"x":{"field":"x","type":"quantitative","axis":null},"y":{"field":"y","type":"quantitative","axis":null},"text":{"field":"t"}}}
]}
],
"config":{
"view":{"stroke":"#8c8c8c","strokeWidth":1},
"title":{"fontSize":25,"font":"Liberation Sans","fontWeight":"normal","color":"#000000","anchor":"middle","frame":"group","offset":-9},
"axis":{"grid":false,"domain":false,"tickColor":"#8c8c8c","tickSize":-3,"labelFont":"Liberation Sans","labelFontSize":21,"labelColor":"#262626","labelFlush":false,"labelOverlap":false,"titleFont":"DejaVu Serif","titleFontSize":28,"titleFontWeight":"normal","titleColor":"#262626"},
"axisX":{"labelPadding":20,"titlePadding":3,"titleFontSize":26},
"axisY":{"labelPadding":14,"titlePadding":6}
}
}
